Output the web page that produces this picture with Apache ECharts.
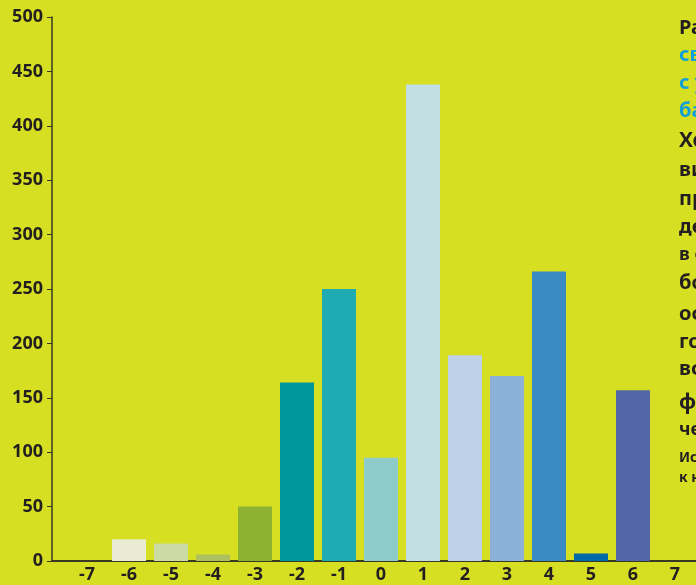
<!DOCTYPE html>
<html>
<head>
<meta charset="utf-8">
<script src="https://cdn.jsdelivr.net/npm/echarts@6/dist/echarts.min.js"></script>
<style>
  html, body { margin: 0; padding: 0; background: #d7df23; }
  #chartBox { width: 696px; height: 585px; }
</style>
</head>
<body>
<div id="chartBox"></div>
<script>
// categories on x axis
const categories = [-7, -6, -5, -4, -3, -2, -1, 0, 1, 2, 3, 4, 5, 6, 7];
// bar heights
const values = [0, 20, 16, 6, 50, 164, 250, 95, 438, 189, 170, 266, 7, 157, 0];
// y tick labels
const yTicks = [0, 50, 100, 150, 200, 250, 300, 350, 400, 450, 500];

const barColors = [
  "#d7df23", "#e9ecd2", "#ccdaa4", "#adc15e", "#8db232", "#00979a", "#1eacb2",
  "#8ecccc", "#c2e0e3", "#bfd1e8", "#8cb1d8", "#3a8bc4", "#0069a8", "#5367a8", "#d7df23"
];

// side text (cut off by the window edge)
const sideLines = [
  { t: "Распределение", y: 30, c: "#231f20", s: 20 },
  { t: "свежести", y: 57, c: "#11a0d6", s: 20 },
  { t: "с учётом", y: 85, c: "#11a0d6", s: 20 },
  { t: "баллов", y: 113, c: "#11a0d6", s: 20 },
  { t: "Хорошо", y: 143, c: "#231f20", s: 21 },
  { t: "видно,", y: 172, c: "#231f20", s: 20 },
  { t: "преобладают", y: 201, c: "#231f20", s: 20 },
  { t: "дерзкие", y: 229, c: "#231f20", s: 20 },
  { t: "в свою", y: 257, c: "#231f20", s: 18 },
  { t: "более", y: 285, c: "#231f20", s: 20 },
  { t: "особые", y: 316, c: "#231f20", s: 20 },
  { t: "годы", y: 344, c: "#231f20", s: 20 },
  { t: "всего", y: 371, c: "#231f20", s: 20 },
  { t: "фактор", y: 405, c: "#231f20", s: 21 },
  { t: "через", y: 432, c: "#231f20", s: 18 },
  { t: "Источник", y: 459, c: "#231f20", s: 14 },
  { t: "к началу", y: 479, c: "#231f20", s: 14 }
];

const myChart = echarts.init(document.getElementById("chartBox"));

const option = {
  backgroundColor: "#d7df23",
  animation: false,
  textStyle: { fontFamily: "Noto Sans" },
  grid: { left: 52, right: 0, top: 17, bottom: 24, containLabel: false },
  xAxis: {
    type: "value",
    min: -7.5 - 14 / 42,
    max: 7.5,
    splitLine: { show: false },
    axisLine: { show: true, onZero: false, lineStyle: { color: "#3a3a22", width: 2 } },
    axisTick: { show: false },
    axisLabel: {
      customValues: categories,
      color: "#231f20",
      fontWeight: "bold",
      fontSize: 18,
      margin: 5
    }
  },
  yAxis: {
    type: "value",
    min: 0,
    max: 500,
    interval: 50,
    splitLine: { show: false },
    axisLine: { show: true, onZero: false, lineStyle: { color: "#3a3a22", width: 1.5 } },
    axisTick: { show: true, length: 5, lineStyle: { color: "#3a3a22" } },
    axisLabel: {
      color: "#231f20",
      fontWeight: "bold",
      fontSize: 18,
      margin: 9
    }
  },
  series: [
    {
      type: "bar",
      barWidth: 34,
      data: categories.map(function (c, i) { return [c, values[i]]; }),
      itemStyle: {
        color: function (p) { return barColors[p.dataIndex]; }
      }
    }
  ],
  graphic: sideLines.map(function (l) {
    return {
      type: "text",
      left: 679,
      top: l.y - l.s * 0.6,
      style: {
        text: l.t,
        fill: l.c,
        font: "bold " + l.s + "px 'Noto Sans'"
      }
    };
  })
};

myChart.setOption(option);
</script>
</body>
</html>
